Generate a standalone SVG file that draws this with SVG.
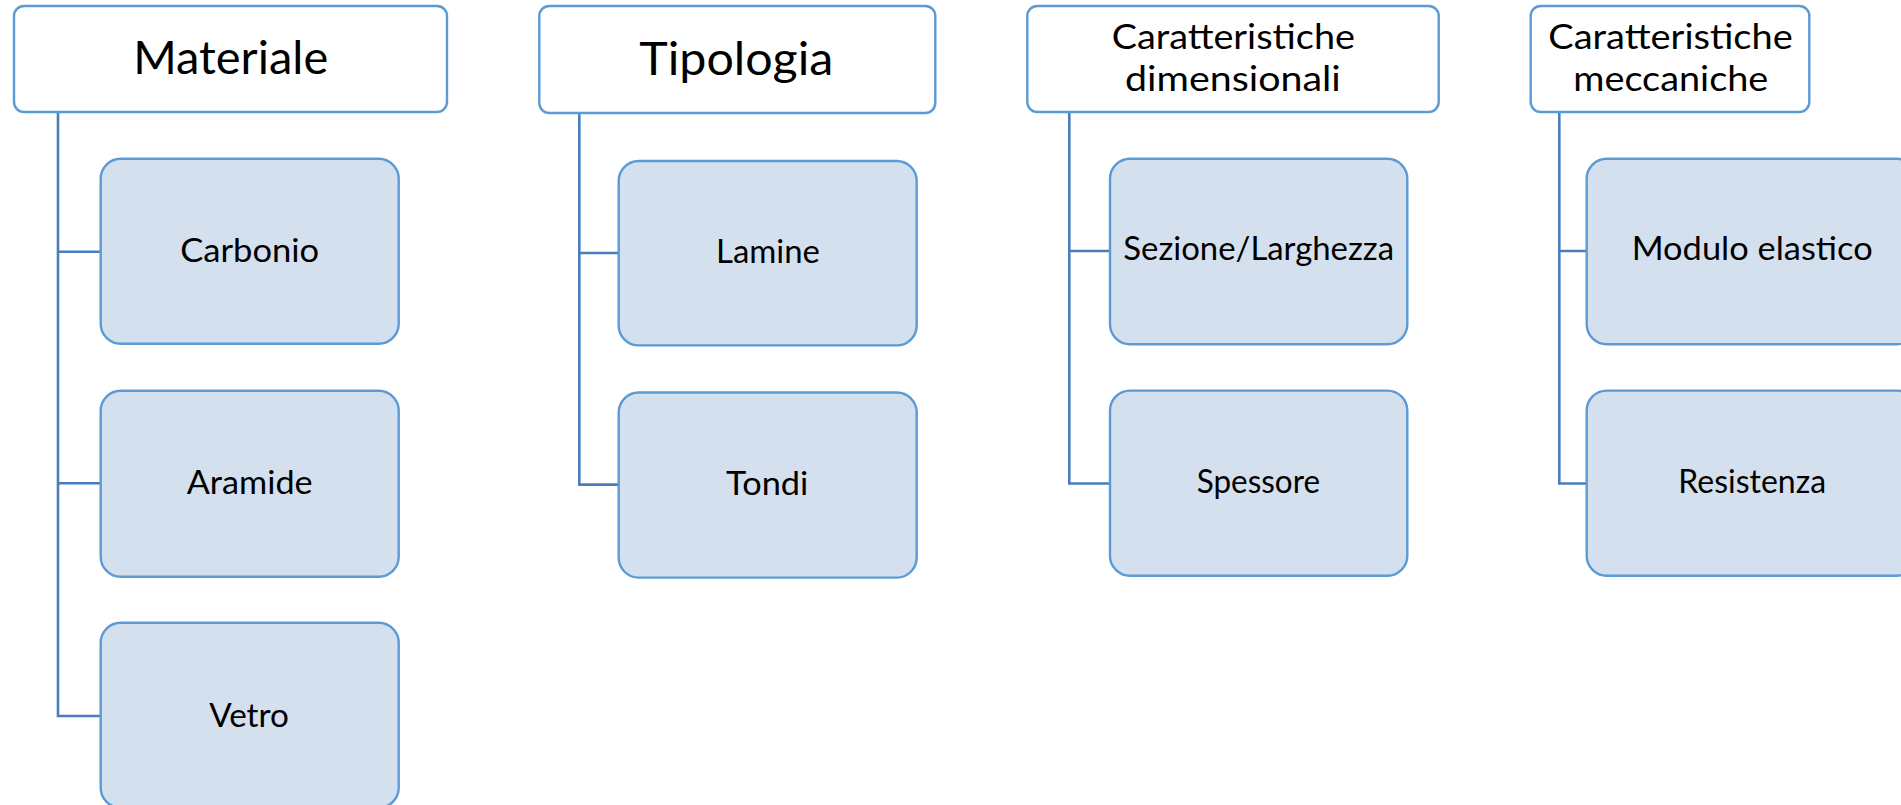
<svg xmlns="http://www.w3.org/2000/svg" width="1901" height="805" viewBox="0 0 1901 805">
<style>
.hd{fill:#ffffff;stroke:#5b9bd5;stroke-width:2.4}
.ch{fill:#d5e0ef;stroke:#5b9bd5;stroke-width:2.4}
.cn{fill:none;stroke:#4a7ebb;stroke-width:2.6}
text{font-family:Lato,"Open Sans","Liberation Sans",sans-serif;fill:#000;text-anchor:middle}
.t1{font-size:46px}
.t2{font-size:35px}
.t3{font-size:32px}
</style>
<rect width="1901" height="805" fill="#ffffff"/>
<g id="connectors">
<path class="cn" d="M58,112 V716 H100.7 M58,251.7 H100.7 M58,483.3 H100.7"/>
<path class="cn" d="M579.3,113 V484.6 H618.7 M579.3,253 H618.7"/>
<path class="cn" d="M1069.3,112 V483.5 H1110 M1069.3,251 H1110"/>
<path class="cn" d="M1559.3,112 V483.5 H1586.7 M1559.3,251 H1586.7"/>
</g>
<g id="materiale">
<rect class="hd" x="14" y="6" width="433" height="106" rx="10"/>
<text class="t1" x="230.7" y="73.5" textLength="195" lengthAdjust="spacingAndGlyphs">Materiale</text>
</g>
<g id="carbonio">
<rect class="ch" x="100.7" y="158.7" width="298" height="185" rx="20"/>
<text class="t3" x="249.7" y="261.7" textLength="139" lengthAdjust="spacingAndGlyphs">Carbonio</text>
</g>
<g id="aramide">
<rect class="ch" x="100.7" y="390.7" width="298" height="186" rx="20"/>
<text class="t3" x="249.7" y="494" textLength="126" lengthAdjust="spacingAndGlyphs">Aramide</text>
</g>
<g id="vetro">
<rect class="ch" x="100.7" y="622.7" width="298" height="185" rx="20"/>
<text class="t3" x="249" y="726.7" textLength="79.7" lengthAdjust="spacingAndGlyphs">Vetro</text>
</g>
<g id="tipologia">
<rect class="hd" x="539.3" y="6" width="396" height="107" rx="10"/>
<text class="t1" x="736.3" y="74.5" textLength="194" lengthAdjust="spacingAndGlyphs">Tipologia</text>
</g>
<g id="lamine">
<rect class="ch" x="618.7" y="161" width="298" height="184.4" rx="20"/>
<text class="t3" x="768" y="263.4" textLength="104" lengthAdjust="spacingAndGlyphs">Lamine</text>
</g>
<g id="tondi">
<rect class="ch" x="618.7" y="392.5" width="298" height="185.1" rx="20"/>
<text class="t3" x="767.2" y="494.8" textLength="82.3" lengthAdjust="spacingAndGlyphs">Tondi</text>
</g>
<g id="dimensionali">
<rect class="hd" x="1027.3" y="6" width="411.4" height="106" rx="10"/>
<text class="t2" x="1233.3" y="48.9" textLength="243.3" lengthAdjust="spacingAndGlyphs">Caratteristiche</text>
<text class="t2" x="1232.9" y="91.4" textLength="215.7" lengthAdjust="spacingAndGlyphs">dimensionali</text>
</g>
<g id="sezione">
<rect class="ch" x="1110" y="158.8" width="297.3" height="185.5" rx="20"/>
<text class="t3" x="1258.7" y="260.4" textLength="270.7" lengthAdjust="spacingAndGlyphs">Sezione/Larghezza</text>
</g>
<g id="spessore">
<rect class="ch" x="1110" y="390.6" width="297.3" height="185.1" rx="20"/>
<text class="t3" x="1258.4" y="493" textLength="123.3" lengthAdjust="spacingAndGlyphs">Spessore</text>
</g>
<g id="meccaniche">
<rect class="hd" x="1530.7" y="6" width="278.6" height="106" rx="10"/>
<text class="t2" x="1670.5" y="48.9" textLength="244.4" lengthAdjust="spacingAndGlyphs">Caratteristiche</text>
<text class="t2" x="1670.8" y="91.4" textLength="195" lengthAdjust="spacingAndGlyphs">meccaniche</text>
</g>
<g id="modulo">
<rect class="ch" x="1586.7" y="158.8" width="330" height="185.5" rx="20"/>
<text class="t3" x="1752.2" y="260.4" textLength="241" lengthAdjust="spacingAndGlyphs">Modulo elastico</text>
</g>
<g id="resistenza">
<rect class="ch" x="1586.7" y="390.6" width="330" height="185.1" rx="20"/>
<text class="t3" x="1752.2" y="493" textLength="147.7" lengthAdjust="spacingAndGlyphs">Resistenza</text>
</g>
</svg>
